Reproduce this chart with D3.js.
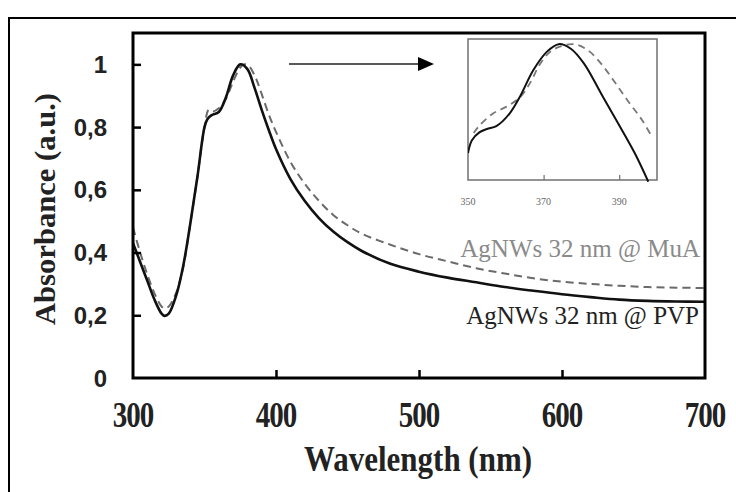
<!DOCTYPE html>
<html><head><meta charset="utf-8">
<script src="https://cdn.jsdelivr.net/npm/d3@7"></script>
<style>body{margin:0;background:#fff}svg{display:block}</style>
</head><body>
<script>
// ---- data ----
const wlPVP = [300,305,310,315,320,322,325,330,335,340,345,350,352,355,360,365,370,375,380,385,390,395,400,410,420,430,440,450,460,480,500,520,540,560,580,600,620,640,660,680,700];
const absPVP = [0.43,0.37,0.31,0.25,0.205,0.198,0.205,0.26,0.355,0.49,0.64,0.80,0.825,0.838,0.848,0.895,0.965,1.0,0.985,0.925,0.855,0.79,0.73,0.635,0.565,0.51,0.467,0.433,0.405,0.364,0.339,0.32,0.305,0.29,0.278,0.267,0.258,0.25,0.246,0.244,0.243];
const wlMuA = [300,305,310,315,320,322,325,330,335,340,345,350,353,356,360,365,370,375,378,381,386,390,395,400,410,420,430,440,450,460,480,500,520,540,560,580,600,620,640,660,680,700];
const absMuA = [0.48,0.40,0.33,0.27,0.228,0.222,0.228,0.27,0.35,0.49,0.64,0.80,0.855,0.85,0.86,0.89,0.945,0.99,1.0,0.995,0.955,0.905,0.84,0.785,0.69,0.62,0.565,0.52,0.487,0.46,0.425,0.395,0.372,0.35,0.333,0.318,0.307,0.3,0.294,0.29,0.288,0.287];
// inset (zoom 350-400 nm)
const insetWlPVP = [350,351,353,355,357.5,361,363.7,367.3,370.9,374,377.2,380.7,385.2,389.7,394.1,397.7];
const insetAbsPVP = [0.810,0.832,0.846,0.852,0.857,0.879,0.908,0.955,0.987,1.0,0.992,0.966,0.914,0.862,0.810,0.760];
const insetWlMuA = [351.5,352.9,356.6,360.2,363.7,366.4,369.1,371.8,374.5,378,381.6,385.2,388.8,392.4,396,398.6];
const insetAbsMuA = [0.845,0.857,0.879,0.891,0.907,0.932,0.966,0.987,0.996,1.0,0.990,0.966,0.934,0.900,0.868,0.839];
const xTicks = [300,400,500,600,700];
const yTicks = [0,0.2,0.4,0.6,0.8,1];
const yTickLabels = ["0","0,2","0,4","0,6","0,8","1"];
const insetTicks = [350,370,390];
const seriesNames = ["AgNWs 32 nm @ MuA","AgNWs 32 nm @ PVP"];

const SERIF = "'Liberation Serif','Times New Roman',Times,serif";
const W = 736, H = 492;
const svg = d3.select("body").append("svg").attr("width",W).attr("height",H);

// outer frame
svg.append("rect").attr("x",9).attr("y",18).attr("width",900).attr("height",600)
  .attr("fill","none").attr("stroke","#000").attr("stroke-width",2);

const L=133,R=705,T=33,B=378;
const x = d3.scaleLinear().domain([300,700]).range([L,R]);
const y = d3.scaleLinear().domain([0,1.1]).range([B,T]);

svg.append("clipPath").attr("id","clip").append("rect").attr("x",L).attr("y",T).attr("width",R-L).attr("height",B-T);

const line = d3.line().x(d=>x(d[0])).y(d=>y(d[1])).curve(d3.curveCatmullRom.alpha(0.5));
const g = svg.append("g").attr("clip-path","url(#clip)");
g.append("path").datum(wlMuA.map((w,i)=>[w,absMuA[i]])).attr("d",line)
  .attr("fill","none").attr("stroke","#6a6a6a").attr("stroke-width",2).attr("stroke-dasharray","8,5");
g.append("path").datum(wlPVP.map((w,i)=>[w,absPVP[i]])).attr("d",line)
  .attr("fill","none").attr("stroke","#111").attr("stroke-width",2.6);

// axes (inner ticks)
const xa = svg.append("g").attr("transform",`translate(0,${B})`)
  .call(d3.axisBottom(x).tickValues([400,500,600]).tickSize(-8).tickFormat(""));
xa.select(".domain").remove();
xa.selectAll("line").attr("stroke","#000").attr("stroke-width",2.5);
const ya = svg.append("g").attr("transform",`translate(${L},0)`)
  .call(d3.axisLeft(y).tickValues([0.2,0.4,0.6,0.8,1]).tickSize(-8).tickFormat(""));
ya.select(".domain").remove();
ya.selectAll("line").attr("stroke","#000").attr("stroke-width",2.5);

// plot frame
svg.append("rect").attr("x",L).attr("y",T).attr("width",R-L).attr("height",B-T)
  .attr("fill","none").attr("stroke","#000").attr("stroke-width",3);

// x tick labels
xTicks.forEach(v=>{
  svg.append("text").attr("transform",`translate(${x(v)},427) scale(1,1.2)`)
    .attr("text-anchor","middle").attr("font-family",SERIF).attr("font-weight","bold")
    .attr("font-size",29).attr("fill","#222").attr("letter-spacing",-1).text(v);
});
// y tick labels
yTicks.forEach((v,i)=>{
  svg.append("text").attr("x",107).attr("y",y(v)+8.5).attr("text-anchor","end")
    .attr("font-family","'Liberation Sans',Arial,sans-serif").attr("font-weight","bold").attr("font-size",24)
    .attr("fill","#222").text(yTickLabels[i]);
});
// axis titles
svg.append("text").attr("transform","translate(418,471) scale(1,1.15)").attr("text-anchor","middle")
  .attr("font-family",SERIF).attr("font-weight","bold").attr("font-size",31)
  .attr("fill","#222").text("Wavelength (nm)");
svg.append("text").attr("transform","translate(55,209) rotate(-90)").attr("text-anchor","middle")
  .attr("font-family",SERIF).attr("font-weight","bold").attr("font-size",30)
  .attr("fill","#222").attr("textLength",232).attr("lengthAdjust","spacingAndGlyphs").text("Absorbance (a.u.)");

// legend labels
svg.append("text").attr("x",700).attr("y",257).attr("text-anchor","end")
  .attr("font-family",SERIF).attr("font-size",25).attr("fill","#8a8a8a").text(seriesNames[0]);
svg.append("text").attr("x",699).attr("y",324).attr("text-anchor","end")
  .attr("font-family",SERIF).attr("font-size",25).attr("fill","#222").text(seriesNames[1]);

// arrow
svg.append("line").attr("x1",289).attr("y1",64).attr("x2",418).attr("y2",64).attr("stroke","#222").attr("stroke-width",1.6);
svg.append("path").attr("d","M418,57L434,64L418,71Z").attr("fill","#000");

// inset
const iL=468,iR=657,iT=39,iB=180;
const ix = d3.scaleLinear().domain([350,400]).range([iL,iR]);
const iy = d3.scaleLinear().domain([0.763,1.009]).range([iB,iT]);
svg.append("clipPath").attr("id","iclip").append("rect").attr("x",iL).attr("y",iT).attr("width",iR-iL).attr("height",iB-iT+2);
const iline = d3.line().x(d=>ix(d[0])).y(d=>iy(d[1])).curve(d3.curveCatmullRom.alpha(0.5));
svg.append("rect").attr("x",iL).attr("y",iT).attr("width",iR-iL).attr("height",iB-iT)
  .attr("fill","#fff").attr("stroke","#707070").attr("stroke-width",1.5);
const ig = svg.append("g").attr("clip-path","url(#iclip)");
ig.append("path").datum(insetWlMuA.map((w,i)=>[w,insetAbsMuA[i]])).attr("d",iline)
  .attr("fill","none").attr("stroke","#777").attr("stroke-width",1.8).attr("stroke-dasharray","7,5");
ig.append("path").datum(insetWlPVP.map((w,i)=>[w,insetAbsPVP[i]])).attr("d",iline)
  .attr("fill","none").attr("stroke","#111").attr("stroke-width",2);
const ia = svg.append("g").attr("transform",`translate(0,${iB})`)
  .call(d3.axisBottom(ix).tickValues([370,390]).tickSize(-5).tickFormat(""));
ia.select(".domain").remove();
ia.selectAll("line").attr("stroke","#707070").attr("stroke-width",1.2);
insetTicks.forEach(v=>{
  svg.append("text").attr("x",ix(v)).attr("y",205).attr("text-anchor","middle")
    .attr("font-family",SERIF).attr("font-size",10).attr("fill","#666").text(v);
});
</script>
</body></html>
